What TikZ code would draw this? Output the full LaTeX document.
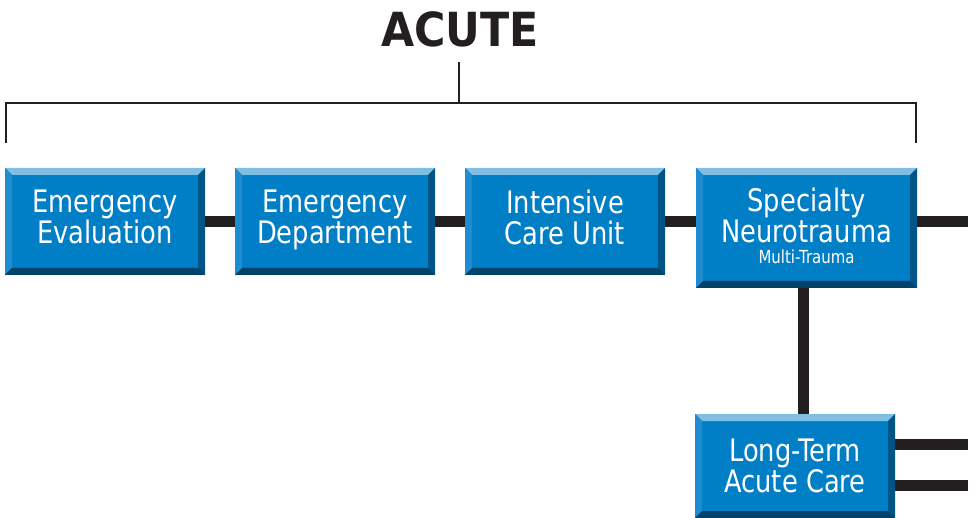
\documentclass[tikz,border=0pt]{standalone}
\usepackage{fontspec}
\newfontfamily\boxfont[FakeStretch=0.83]{DejaVu Sans}
\newfontfamily\titlefont[FakeStretch=0.91]{DejaVu Sans}

\definecolor{unitblue}{RGB}{0,127,198}
\definecolor{bevellight}{RGB}{128,190,228}
\definecolor{bevelleft}{RGB}{30,140,206}
\definecolor{beveldark}{RGB}{0,84,134}
\definecolor{bevelbottom}{RGB}{0,66,108}
\definecolor{linkgray}{RGB}{35,31,32}

\tikzset{
  unit/.style={fill=unitblue, text=white, align=center, inner sep=0pt,
    minimum width=200pt, minimum height=107pt,
    font=\boxfont\fontsize{31}{31}\selectfont,
    path picture={
      \coordinate (pnw) at (path picture bounding box.north west);
      \coordinate (pne) at (path picture bounding box.north east);
      \coordinate (psw) at (path picture bounding box.south west);
      \coordinate (pse) at (path picture bounding box.south east);
      \fill[bevellight] (pnw) -- (pne) -- ([shift={(-7pt,-7pt)}]pne) -- ([shift={(7pt,-7pt)}]pnw) -- cycle;
      \fill[bevelleft] (pnw) -- ([shift={(7pt,-7pt)}]pnw) -- ([shift={(7pt,7pt)}]psw) -- (psw) -- cycle;
      \fill[beveldark] (pne) -- (pse) -- ([shift={(-7pt,7pt)}]pse) -- ([shift={(-7pt,-7pt)}]pne) -- cycle;
      \fill[bevelbottom] (psw) -- (pse) -- ([shift={(-7pt,7pt)}]pse) -- ([shift={(7pt,7pt)}]psw) -- cycle;
    }},
  link/.style={draw=linkgray, line width=11pt},
  bracket/.style={draw=linkgray, line width=2pt}
}

\begin{document}
\begin{tikzpicture}[x=1pt, y=-1pt]
    \useasboundingbox (0,0) rectangle (974,518);

    % heading and bracket
    \node[font=\titlefont\bfseries\fontsize{47}{50}\selectfont, text=linkgray, anchor=base] (acute) at (460,47) {ACUTE};
    \coordinate (tick) at (459,62);
    \coordinate (bl) at (6,143);
    \coordinate (br) at (916,143);
    \draw[bracket] (bl) -- (6,103) -- (916,103) -- (br);
    \draw[bracket] (tick) -- (459,103);

    % care units
    \node[unit] (emeval) at (105,221.5) {Emergency\\Evaluation\strut};
    \node[unit] (emdept) at (335,221.5) {Emergency\\Department\strut};
    \node[unit] (icu) at (565,221.5) {Intensive\\Care Unit\strut};
    \node[unit, minimum width=221pt, minimum height=120pt] (neuro) at (806.5,228)
        {Specialty\\Neurotrauma\\[-10pt]{\fontsize{18}{18}\selectfont Multi-Trauma\strut}};
    \node[unit, minimum height=104pt] (ltac) at (795,466) {Long-Term\\Acute Care};

    \coordinate (out1) at (968,221.5);
    \coordinate (out2) at (968,444.5);
    \coordinate (out3) at (968,485);

    \draw[link] (emeval.east |- out1) -- (emdept.west |- out1);
    \draw[link] (emdept.east |- out1) -- (icu.west |- out1);
    \draw[link] (icu.east |- out1) -- (neuro.west |- out1);
    \draw[link] (neuro.east |- out1) -- (out1);
    \draw[link] ([xshift=-3.5pt]neuro.south) -- ([xshift=-3.5pt]neuro.south |- ltac.north);
    \draw[link] (out2 -| ltac.east) -- (out2);
    \draw[link] (out3 -| ltac.east) -- (out3);

\end{tikzpicture}
\end{document}
